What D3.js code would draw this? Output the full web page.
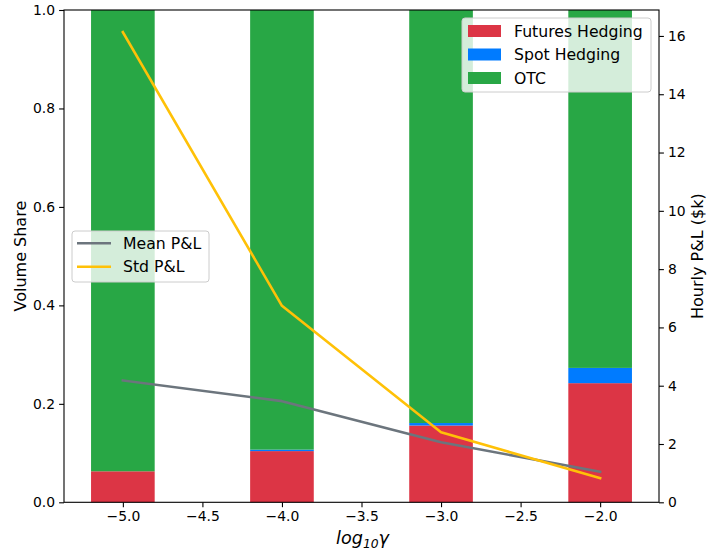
<!DOCTYPE html>
<html><head><meta charset="utf-8">
<script src="https://d3js.org/d3.v7.min.js"></script>
<style>body{margin:0;background:#fff}svg{display:block}text{font-family:"DejaVu Sans",sans-serif;fill:#000}</style>
</head><body><div id="c"></div>
<script>
const gammas = [-5, -4, -3, -2];
const futuresShare = [0.063, 0.104, 0.156, 0.242];
const spotShare = [0.0, 0.003, 0.005, 0.031];
const otcShare = gammas.map((g,i)=>1 - futuresShare[i] - spotShare[i]);
const meanPnl = [4.18, 3.47, 2.06, 1.05];
const stdPnl = [16.13, 6.74, 2.40, 0.83];
const xTicks = [-5.0, -4.5, -4.0, -3.5, -3.0, -2.5, -2.0];
const leftTicks = [0, 0.2, 0.4, 0.6, 0.8, 1.0];
const rightTicks = [0, 2, 4, 6, 8, 10, 12, 14, 16];
const barSeries = [
  {name:"Futures Hedging", values: futuresShare, color:"#dc3545"},
  {name:"Spot Hedging", values: spotShare, color:"#007bff"},
  {name:"OTC", values: otcShare, color:"#28a745"}
];
const lineSeries = [
  {name:"Mean P&L", values: meanPnl, color:"#6c757d"},
  {name:"Std P&L", values: stdPnl, color:"#ffc107"}
];

const W=708,H=552, L=64, R=659, T=10, B=502.3;
const svg=d3.select("#c").append("svg").attr("width",W).attr("height",H);
const x=d3.scaleLinear().domain([-5.37,-1.63]).range([L,R]);
const y=d3.scaleLinear().domain([0,1]).range([B,T]);
const y2=d3.scaleLinear().domain([0,16.89]).range([B,T]);
const bw = x(0.4)-x(0);

// stacked bars
const stackData = gammas.map((g,i)=>({g, f:futuresShare[i], s:spotShare[i], o:otcShare[i]}));
const stack = d3.stack().keys(["f","s","o"])(stackData);
stack.forEach((layer,k)=>{
  svg.append("g").selectAll("rect").data(layer).join("rect")
    .attr("x",d=>x(d.data.g)-bw/2).attr("width",bw)
    .attr("y",d=>y(d[1])).attr("height",d=>Math.max(0,y(d[0])-y(d[1])))
    .attr("fill",barSeries[k].color);
});

// lines
lineSeries.forEach(s=>{
  svg.append("path").datum(s.values)
    .attr("fill","none").attr("stroke",s.color).attr("stroke-width",2.6)
    .attr("stroke-linejoin","round").attr("stroke-linecap","square")
    .attr("d",d3.line().x((d,i)=>x(gammas[i])).y(d=>y2(d)));
});

// axes
const fmtMinus = v => d3.format(".1f")(v).replace("-","\u2212");
const ax=svg.append("g").attr("transform",`translate(0,${B})`)
  .call(d3.axisBottom(x).tickValues(xTicks).tickFormat(fmtMinus).tickSizeOuter(0).tickSize(4.9).tickPadding(4));
const ay=svg.append("g").attr("transform",`translate(${L},0)`)
  .call(d3.axisLeft(y).tickValues(leftTicks).tickFormat(d3.format(".1f")).tickSizeOuter(0).tickSize(4.9).tickPadding(4));
const ay2=svg.append("g").attr("transform",`translate(${R},0)`)
  .call(d3.axisRight(y2).tickValues(rightTicks).tickFormat(d3.format("d")).tickSizeOuter(0).tickSize(4.9).tickPadding(4));
[ax,ay,ay2].forEach(g=>{
  g.select(".domain").remove();
  g.selectAll("text").attr("font-size",13.9).attr("font-family","DejaVu Sans").attr("fill","#000");
  g.selectAll("line").attr("stroke","#000").attr("stroke-width",1.1);
});
// frame
svg.append("rect").attr("x",L).attr("y",T).attr("width",R-L).attr("height",B-T)
  .attr("fill","none").attr("stroke","#000").attr("stroke-width",1.1);

// axis labels
svg.append("text").attr("x",(L+R)/2+1).attr("y",544).attr("text-anchor","middle")
  .attr("font-size",17.6).attr("font-style","italic")
  .html('log<tspan font-size="12.3" dy="4">10</tspan><tspan dy="-4">γ</tspan>');
svg.append("text").attr("transform",`translate(26,${(T+B)/2}) rotate(-90)`)
  .attr("text-anchor","middle").attr("font-size",16).text("Volume Share");
svg.append("text").attr("transform",`translate(703,${(T+B)/2}) rotate(-90)`)
  .attr("text-anchor","middle").attr("font-size",16).text("Hourly P&L ($k)");

// legend 1 (bars)
const lg1=svg.append("g");
lg1.append("rect").attr("x",462).attr("y",18).attr("width",189).attr("height",74).attr("rx",3)
  .attr("fill","rgba(255,255,255,0.8)").attr("stroke","#ccc").attr("stroke-width",1);
barSeries.forEach((s,i)=>{
  const cy=31+i*23.5;
  lg1.append("rect").attr("x",468).attr("y",cy-6).attr("width",33).attr("height",12).attr("fill",s.color);
  lg1.append("text").attr("x",514).attr("y",cy+5.6).attr("font-size",15.7).text(s.name);
});
// legend 2 (lines)
const lg2=svg.append("g");
lg2.append("rect").attr("x",72).attr("y",231).attr("width",137).attr("height",51).attr("rx",3)
  .attr("fill","rgba(255,255,255,0.8)").attr("stroke","#ccc").attr("stroke-width",1);
lineSeries.forEach((s,i)=>{
  const cy=243.3+i*23.4;
  lg2.append("line").attr("x1",77).attr("x2",111).attr("y1",cy).attr("y2",cy)
    .attr("stroke",s.color).attr("stroke-width",2.6);
  lg2.append("text").attr("x",123).attr("y",cy+5.6).attr("font-size",15.7).text(s.name);
});
</script></body></html>
